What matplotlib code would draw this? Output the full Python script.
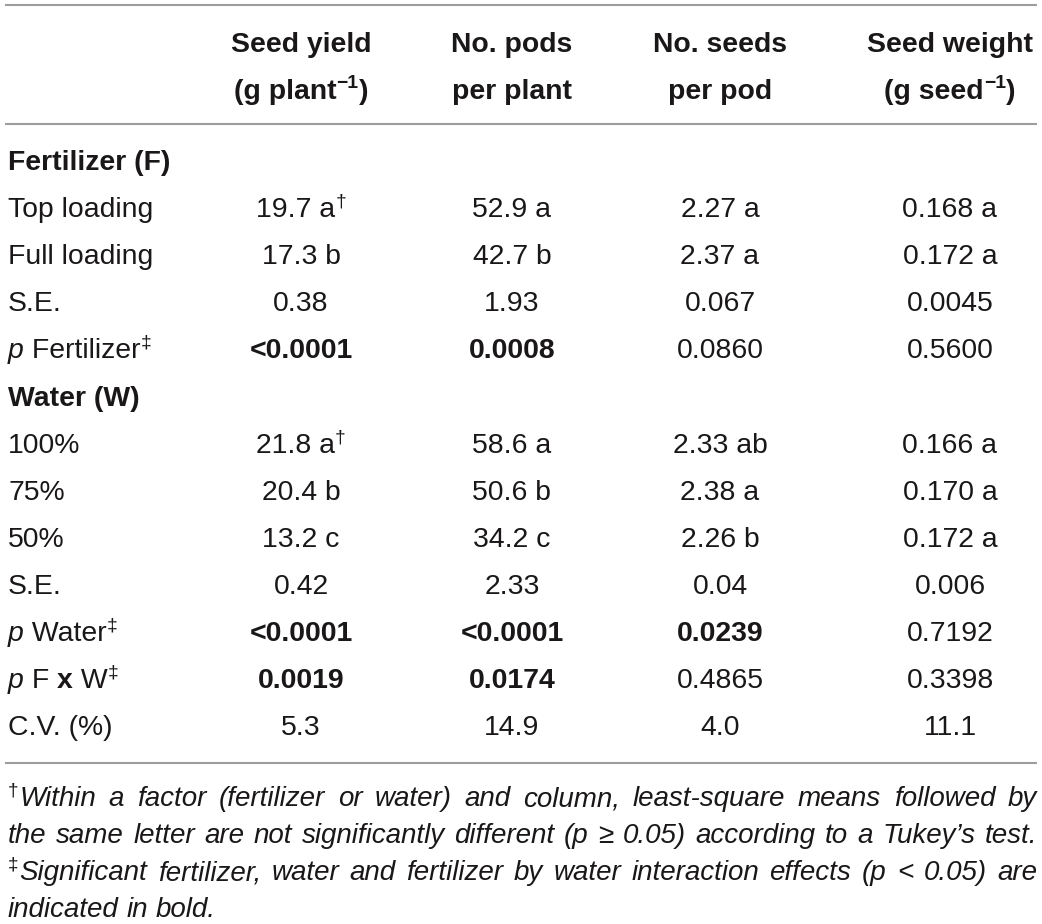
import matplotlib
matplotlib.use("Agg")
import matplotlib.pyplot as plt

# ---- datos de la tabla ----
col_titles = ["Seed yield", "No. pods", "No. seeds", "Seed weight"]
col_units = [("(g plant", "\u22121", ")"), ("per plant", "", ""),
             ("per pod", "", ""), ("(g seed", "\u22121", ")")]

fert_labels = ["Top loading", "Full loading", "S.E.", "p Fertilizer"]
fert_yield = ["19.7 a", "17.3 b", "0.38", "<0.0001"]
fert_pods = ["52.9 a", "42.7 b", "1.93", "0.0008"]
fert_seeds = ["2.27 a", "2.37 a", "0.067", "0.0860"]
fert_weight = ["0.168 a", "0.172 a", "0.0045", "0.5600"]

water_labels = ["100%", "75%", "50%", "S.E.", "p Water", "p F x W", "C.V. (%)"]
water_yield = ["21.8 a", "20.4 b", "13.2 c", "0.42", "<0.0001", "0.0019", "5.3"]
water_pods = ["58.6 a", "50.6 b", "34.2 c", "2.33", "<0.0001", "0.0174", "14.9"]
water_seeds = ["2.33 ab", "2.38 a", "2.26 b", "0.04", "0.0239", "0.4865", "4.0"]
water_weight = ["0.166 a", "0.170 a", "0.172 a", "0.006", "0.7192", "0.3398", "11.1"]

footnotes = [
    ("\u2020", "Within a factor (fertilizer or water) and column, least-square means followed by"),
    ("", "the same letter are not significantly different (p \u2265 0.05) according to a Tukey\u2019s test."),
    ("\u2021", "Significant fertilizer, water and fertilizer by water interaction effects (p < 0.05) are"),
    ("", "indicated in bold."),
]

FONT = "Liberation Sans"
FS = 20.4
FS_NOTE = 20
SUP = 0.68
INK = "#1a1718"
RULE = "#9d9d9d"

W, H = 1042, 924
fig = plt.figure(figsize=(W / 100, H / 100), dpi=100)
ax = fig.add_axes([0, 0, 1, 1])
ax.set_xlim(0, W)
ax.set_ylim(H, 0)
ax.axis("off")
R = fig.canvas.get_renderer()


def raw_w(txt, kw):
    t = ax.text(0, 0, txt, **kw)
    w = t.get_window_extent(R).width
    t.remove()
    return w


def width_of(txt, kw):
    return raw_w("|" + txt + "|", kw) - raw_w("||", kw)


def style(size=FS, weight="normal", italic=False):
    return dict(family=FONT, fontsize=size, fontweight=weight,
                fontstyle="italic" if italic else "normal", color=INK)


def put(x, y, parts, ha="left", size=FS):
    # parts: (texto, weight, italic, sup)
    items = []
    for txt, weight, italic, sup in parts:
        if not txt:
            continue
        s = size * SUP if sup else size
        kw = style(s, weight, italic)
        items.append((txt, kw, sup, width_of(txt, kw)))
    total = sum(it[3] for it in items)
    cx = x - total / 2 if ha == "center" else x
    for txt, kw, sup, w in items:
        dy = -size * 100 / 72 * 0.38 if sup else 0
        ax.text(cx, y + dy, txt, va="baseline", ha="left", **kw)
        cx += w
    return total


# reglas horizontales
for yy in (5, 124, 763):
    ax.plot([5, 1037], [yy, yy], color=RULE, lw=1.5, solid_capstyle="butt")

col_x = [301, 512, 720, 950]

# encabezado
for cx, title, unit in zip(col_x, col_titles, col_units):
    put(cx, 52, [(title, "bold", False, False)], ha="center")
    put(cx, 99, [(unit[0], "bold", False, False), (unit[1], "bold", False, True),
                 (unit[2], "bold", False, False)], ha="center")


def label_parts(lab):
    if lab.startswith("p "):
        rest = lab[1:]
        parts = [("p", "normal", True, False)]
        if " x " in rest:
            a, b = rest.split(" x ")
            parts += [(a + " ", "normal", False, False), ("x", "bold", False, False),
                      (" " + b, "normal", False, False)]
        else:
            parts += [(rest, "normal", False, False)]
        parts += [("\u2021", "normal", False, True)]
        return parts
    return [(lab, "normal", False, False)]


def is_sig(lab, val):
    if not lab.startswith("p "):
        return False
    return float(val.lstrip("<")) < 0.05


def block(y0, title, labels, cols):
    put(8, y0, [(title, "bold", False, False)])
    for i, lab in enumerate(labels):
        y = y0 + 47 * (i + 1)
        put(8, y, label_parts(lab))
        for j, (cx, col) in enumerate(zip(col_x, cols)):
            val = col[i]
            wgt = "bold" if is_sig(lab, val) else "normal"
            parts = [(val, wgt, False, False)]
            if i == 0 and j == 0:
                parts.append(("\u2020", "normal", False, True))
            put(cx, y, parts, ha="center")


block(170, "Fertilizer (F)", fert_labels, [fert_yield, fert_pods, fert_seeds, fert_weight])
block(406, "Water (W)", water_labels, [water_yield, water_pods, water_seeds, water_weight])

# notas al pie, justificadas
x0, x1 = 8, 1037
note_kw = style(FS_NOTE, "normal", True)
sup_kw = style(FS_NOTE * SUP, "normal", False)
for k, (mark, line) in enumerate(footnotes):
    y = 806 + 37 * k
    words = line.split(" ")
    mark_w = width_of(mark, sup_kw) + 1 if mark else 0
    widths = [width_of(wd, note_kw) for wd in words]
    if k < len(footnotes) - 1:
        gap = (x1 - x0 - mark_w - sum(widths)) / (len(words) - 1)
    else:
        gap = width_of(" ", note_kw)
    cx = x0
    if mark:
        ax.text(cx, y - FS_NOTE * 100 / 72 * 0.38, mark, va="baseline", **sup_kw)
        cx += mark_w
    for wd, w in zip(words, widths):
        ax.text(cx, y, wd, va="baseline", **note_kw)
        cx += w + gap

fig.savefig("out.png", dpi=100)
